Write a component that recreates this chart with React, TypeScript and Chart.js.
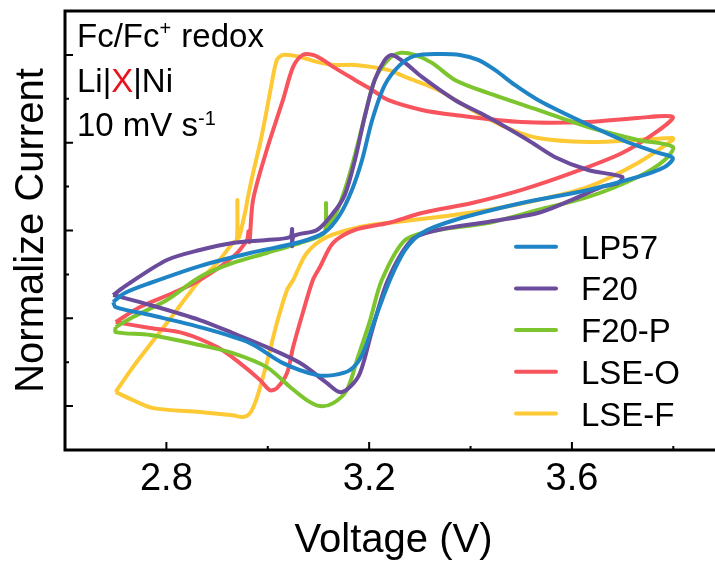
import { useEffect, useRef } from 'react';
import { Chart, registerables } from 'chart.js';

Chart.register(...registerables);

const FONT = '"Liberation Sans", Arial, Helvetica, sans-serif';

// Series names and colours (legend order)
const seriesNames = ['LP57', 'F20', 'F20-P', 'LSE-O', 'LSE-F'];
const seriesColors = ['#1f84c6', '#6b4b9c', '#7dc52e', '#f8545e', '#fdc934'];

// LP57
const lp57V = [2.695, 2.718, 2.768, 2.866, 2.965, 3.064, 3.113, 3.142, 3.166, 3.186, 3.206, 3.231, 3.261, 3.290, 3.336, 3.379, 3.415, 3.448, 3.488, 3.533, 3.600, 3.699, 3.764, 3.799, 3.783, 3.730, 3.632, 3.501, 3.369, 3.304, 3.271, 3.241, 3.211, 3.186, 3.162, 3.129, 3.097, 3.030, 2.965, 2.866, 2.768, 2.700, 2.695];
const lp57I = [1.185, 1.288, 1.402, 1.595, 1.744, 1.869, 1.983, 2.177, 2.462, 2.803, 3.259, 3.658, 3.886, 3.989, 4.011, 4.000, 3.943, 3.829, 3.655, 3.487, 3.293, 3.031, 2.895, 2.826, 2.724, 2.610, 2.462, 2.313, 2.120, 1.972, 1.778, 1.436, 0.980, 0.581, 0.410, 0.353, 0.353, 0.490, 0.718, 0.900, 1.037, 1.128, 1.185];

// F20
const f20V = [2.695, 2.722, 2.801, 2.866, 2.931, 2.998, 3.044, 3.048, 3.048, 3.052, 3.097, 3.129, 3.152, 3.172, 3.192, 3.211, 3.231, 3.245, 3.271, 3.304, 3.369, 3.434, 3.513, 3.566, 3.632, 3.699, 3.691, 3.659, 3.600, 3.533, 3.434, 3.336, 3.284, 3.237, 3.206, 3.182, 3.162, 3.142, 3.117, 3.064, 2.998, 2.931, 2.866, 2.768, 2.695];
const f20I = [1.265, 1.379, 1.664, 1.778, 1.858, 1.892, 1.926, 2.017, 1.823, 1.938, 2.006, 2.199, 2.405, 2.803, 3.316, 3.715, 3.943, 4.000, 3.909, 3.749, 3.487, 3.293, 3.031, 2.838, 2.689, 2.610, 2.541, 2.496, 2.348, 2.199, 2.097, 2.006, 1.892, 1.436, 0.866, 0.376, 0.217, 0.160, 0.262, 0.490, 0.672, 0.832, 0.980, 1.151, 1.265];

// F20-P
const f20pV = [2.700, 2.734, 2.801, 2.866, 2.931, 2.998, 3.064, 3.099, 3.113, 3.115, 3.117, 3.133, 3.152, 3.172, 3.192, 3.211, 3.237, 3.261, 3.290, 3.324, 3.369, 3.434, 3.533, 3.632, 3.730, 3.799, 3.783, 3.730, 3.632, 3.533, 3.434, 3.336, 3.271, 3.225, 3.202, 3.176, 3.156, 3.129, 3.103, 3.077, 3.044, 2.998, 2.931, 2.866, 2.768, 2.700, 2.700];
const f20pI = [0.900, 1.014, 1.208, 1.470, 1.630, 1.744, 1.858, 1.926, 1.983, 2.313, 2.063, 2.177, 2.462, 2.860, 3.316, 3.715, 3.943, 4.023, 4.000, 3.909, 3.715, 3.567, 3.373, 3.179, 3.031, 2.952, 2.803, 2.610, 2.382, 2.234, 2.085, 2.006, 1.892, 1.436, 0.980, 0.524, 0.182, 0.034, 0.000, 0.068, 0.217, 0.444, 0.604, 0.695, 0.809, 0.843, 0.900];

// LSE-O
const lseoV = [2.700, 2.748, 2.813, 2.866, 2.931, 2.959, 2.962, 2.964, 2.971, 2.998, 3.030, 3.050, 3.069, 3.089, 3.109, 3.129, 3.172, 3.206, 3.237, 3.304, 3.369, 3.501, 3.632, 3.730, 3.799, 3.764, 3.699, 3.600, 3.501, 3.403, 3.304, 3.237, 3.172, 3.129, 3.103, 3.089, 3.069, 3.050, 3.038, 3.018, 3.004, 2.985, 2.945, 2.900, 2.833, 2.768, 2.700];
const lseoI = [0.957, 1.128, 1.288, 1.436, 1.698, 1.892, 1.990, 1.870, 2.348, 2.917, 3.487, 3.863, 4.000, 4.000, 3.943, 3.863, 3.715, 3.601, 3.487, 3.373, 3.316, 3.236, 3.236, 3.282, 3.293, 3.111, 2.883, 2.655, 2.462, 2.313, 2.199, 2.085, 2.006, 1.858, 1.584, 1.436, 1.060, 0.672, 0.376, 0.205, 0.182, 0.296, 0.490, 0.672, 0.832, 0.889, 0.957];

// LSE-F
const lsefV = [2.700, 2.734, 2.801, 2.866, 2.900, 2.931, 2.939, 2.940, 2.942, 2.955, 2.961, 2.971, 2.985, 2.998, 3.008, 3.018, 3.030, 3.064, 3.097, 3.129, 3.172, 3.237, 3.271, 3.336, 3.403, 3.468, 3.533, 3.632, 3.730, 3.799, 3.799, 3.730, 3.632, 3.533, 3.434, 3.336, 3.237, 3.182, 3.117, 3.077, 3.050, 3.038, 3.018, 2.998, 2.979, 2.965, 2.951, 2.931, 2.866, 2.774, 2.734, 2.700];
const lsefI = [0.160, 0.444, 0.946, 1.436, 1.630, 1.858, 1.892, 2.348, 1.915, 2.199, 2.382, 2.655, 2.997, 3.373, 3.681, 3.943, 4.000, 3.977, 3.920, 3.886, 3.886, 3.829, 3.749, 3.601, 3.373, 3.179, 3.054, 3.009, 3.031, 3.054, 3.031, 2.769, 2.496, 2.348, 2.234, 2.154, 2.085, 2.040, 1.926, 1.744, 1.436, 1.322, 0.946, 0.490, 0.103, -0.080, -0.125, -0.103, -0.068, -0.023, 0.068, 0.160];

const seriesV = [lp57V, f20V, f20pV, lseoV, lsefV];
const seriesI = [lp57I, f20I, f20pI, lseoI, lsefI];

// Axes
const xMin = 2.6;
const xMax = 3.9;
const yMin = -0.5;
const yMax = 4.5;
const xTickValues = [2.8, 3.2, 3.6];
const xTickLabels = ['2.8', '3.2', '3.6'];
const xMinorTicks = [3.0, 3.4, 3.8];
const yMajorTicks = [0, 1, 2, 3, 4];
const yMinorTicks = [0.5, 1.5, 2.5, 3.5];
const xTitle = 'Voltage (V)';
const yTitle = 'Normalize Current';

type Run = { t: string; color?: string; sup?: boolean };
const annotationLines: Run[][] = [
  [{ t: 'Fc/Fc' }, { t: '+', sup: true }, { t: ' redox' }],
  [{ t: 'Li|' }, { t: 'X', color: '#e8141c' }, { t: '|Ni' }],
  [{ t: '10 mV s' }, { t: '-1', sup: true }],
];

function drawRuns(ctx: CanvasRenderingContext2D, runs: Run[], x: number, y: number, size: number) {
  let cx = x;
  for (const r of runs) {
    const fs = r.sup ? Math.round(size * 0.6) : size;
    ctx.font = `${fs}px ${FONT}`;
    ctx.fillStyle = r.color || '#000';
    const yy = r.sup ? y - size * 0.36 : y;
    ctx.fillText(r.t, cx, yy);
    cx += ctx.measureText(r.t).width + (r.sup ? 1 : 0);
  }
}

const decorPlugin = {
  id: 'decor',
  afterDatasetsDraw(chart: any) {
    const { ctx, chartArea: ca, scales } = chart;
    const xs = scales.x;
    const ys = scales.y;
    ctx.save();
    ctx.strokeStyle = '#000';
    ctx.lineWidth = 3;
    ctx.strokeRect(ca.left, ca.top, ca.right - ca.left, ca.bottom - ca.top);

    ctx.lineWidth = 2;
    ctx.beginPath();
    for (const v of xTickValues) {
      const p = xs.getPixelForValue(v);
      ctx.moveTo(p, ca.bottom);
      ctx.lineTo(p, ca.bottom - 8);
    }
    for (const v of xMinorTicks) {
      const p = xs.getPixelForValue(v);
      ctx.moveTo(p, ca.bottom);
      ctx.lineTo(p, ca.bottom - 4);
    }
    for (const v of yMajorTicks) {
      const p = ys.getPixelForValue(v);
      ctx.moveTo(ca.left, p);
      ctx.lineTo(ca.left + 8, p);
    }
    for (const v of yMinorTicks) {
      const p = ys.getPixelForValue(v);
      ctx.moveTo(ca.left, p);
      ctx.lineTo(ca.left + 4, p);
    }
    ctx.stroke();

    ctx.fillStyle = '#000';
    ctx.textBaseline = 'alphabetic';
    ctx.textAlign = 'center';
    ctx.font = `38px ${FONT}`;
    xTickValues.forEach((v, i) => {
      ctx.fillText(xTickLabels[i], xs.getPixelForValue(v), 490);
    });

    ctx.font = `40px ${FONT}`;
    ctx.fillText(xTitle, (ca.left + ca.right) / 2 - 1, 552);

    ctx.save();
    ctx.translate(43, (ca.top + ca.bottom) / 2);
    ctx.rotate(-Math.PI / 2);
    ctx.fillText(yTitle, 0, 0);
    ctx.restore();

    ctx.textAlign = 'left';
    annotationLines.forEach((runs, i) => {
      drawRuns(ctx, runs, 77, 47 + i * 44.7, 33);
    });

    // legend
    ctx.font = `33px ${FONT}`;
    chart.data.datasets.forEach((ds: any, i: number) => {
      const y = 246.7 + i * 41.7;
      ctx.strokeStyle = ds.borderColor;
      ctx.lineWidth = 4;
      ctx.lineCap = 'round';
      ctx.beginPath();
      ctx.moveTo(516, y);
      ctx.lineTo(556, y);
      ctx.stroke();
      ctx.fillStyle = '#000';
      ctx.fillText(ds.label, 581, y + 12);
    });
    ctx.restore();
  },
};

export default function App() {
  const ref = useRef<HTMLCanvasElement | null>(null);
  useEffect(() => {
    if (!ref.current) return;
    const datasets = seriesNames.map((name, k) => ({
      label: name,
      data: seriesV[k].map((v, j) => ({ x: v, y: seriesI[k][j] })),
      borderColor: seriesColors[k],
      backgroundColor: seriesColors[k],
      showLine: true,
      pointRadius: 0,
      borderWidth: 4,
      tension: 0.3,
      fill: false,
    }));
    const chart = new Chart(ref.current, {
      type: 'scatter',
      data: { datasets },
      options: {
        animation: false,
        responsive: false,
        maintainAspectRatio: false,
        layout: { padding: { left: 65, top: 11, right: 11, bottom: 112 } },
        scales: {
          x: { type: 'linear', min: xMin, max: xMax, display: false },
          y: { type: 'linear', min: yMin, max: yMax, display: false },
        },
        plugins: { legend: { display: false }, tooltip: { enabled: false } },
      },
      plugins: [decorPlugin],
    } as any);
    return () => chart.destroy();
  }, []);
  return (
    <div style={{ position: 'fixed', left: 0, top: 0, width: 715, height: 562, overflow: 'hidden', background: '#fff' }}>
      <canvas ref={ref} width={735} height={562} style={{ display: 'block', width: 735, height: 562 }} />
    </div>
  );
}
